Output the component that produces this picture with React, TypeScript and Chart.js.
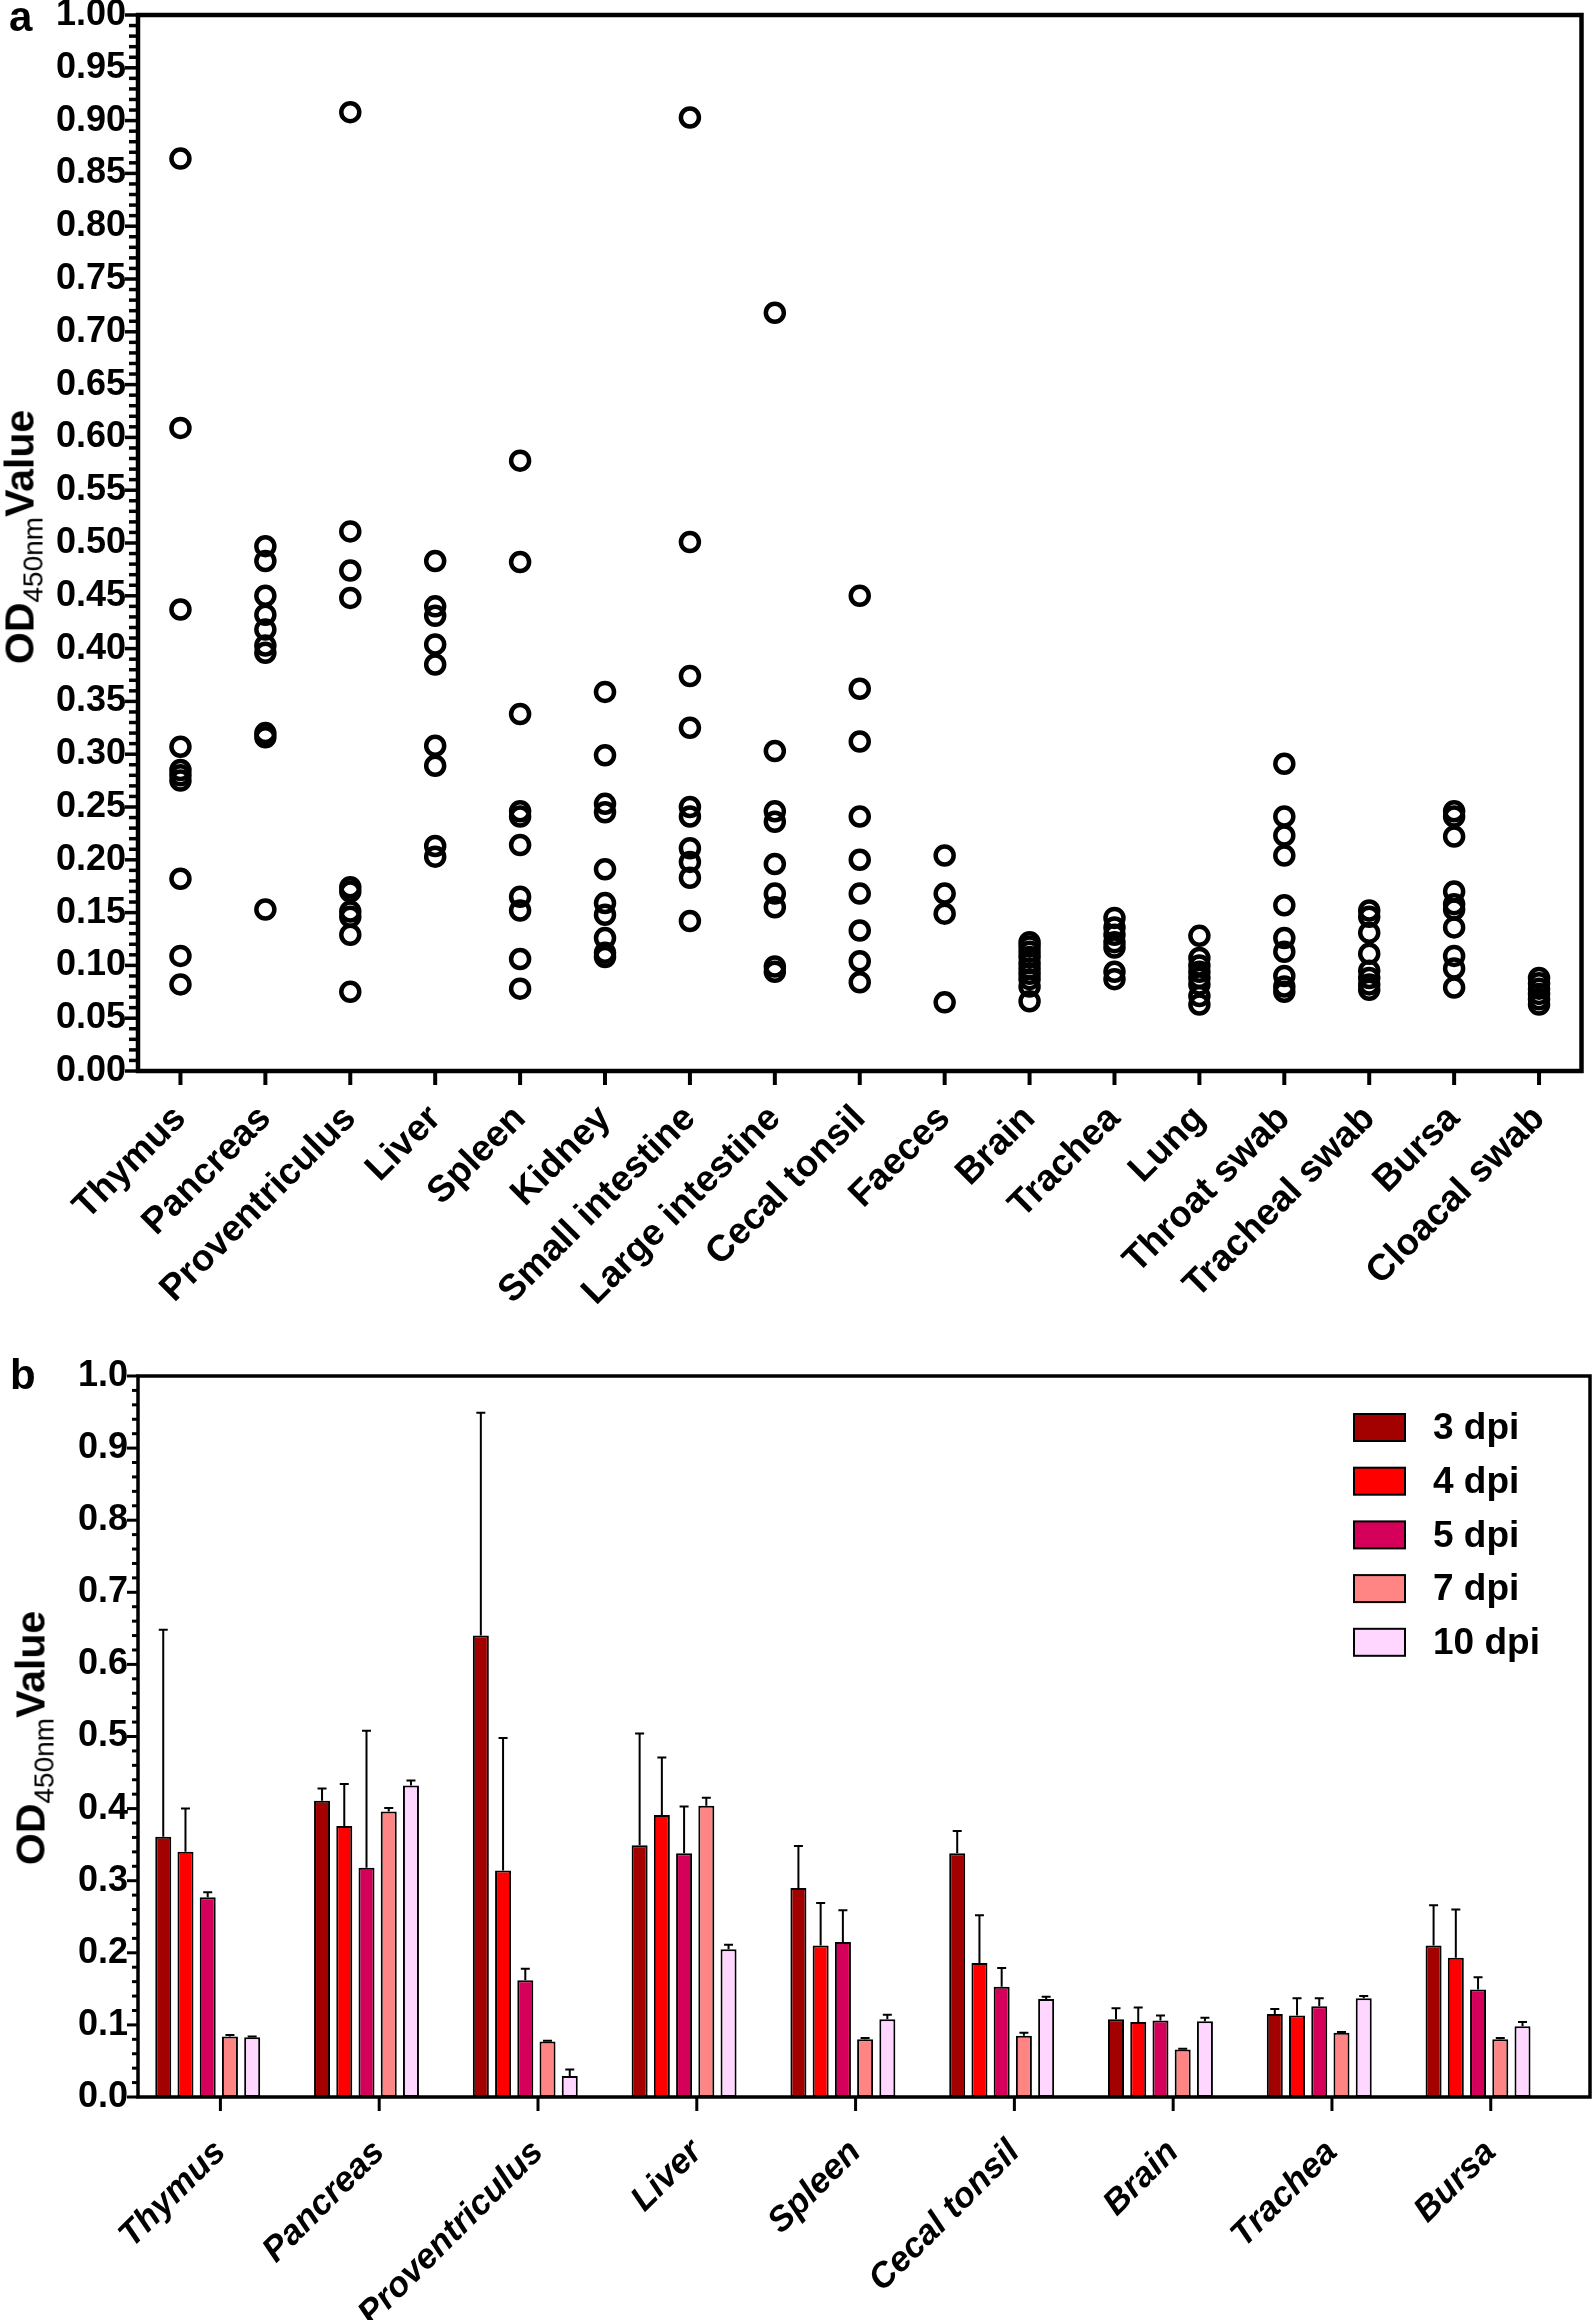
import React, { useEffect, useRef } from 'react';
import { Chart, registerables } from 'chart.js';

Chart.register(...registerables);

const FONT = '"Liberation Sans", Arial, Helvetica, sans-serif';

// ---------------- Panel a: individual OD values per tissue ----------------
const tissuesA = [
  'Thymus', 'Pancreas', 'Proventriculus', 'Liver', 'Spleen', 'Kidney',
  'Small intestine', 'Large intestine', 'Cecal tonsil', 'Faeces', 'Brain',
  'Trachea', 'Lung', 'Throat swab', 'Tracheal swab', 'Bursa', 'Cloacal swab',
];
const thymusA = [0.864, 0.609, 0.437, 0.307, 0.285, 0.28, 0.275, 0.182, 0.109, 0.082];
const pancreasA = [0.497, 0.483, 0.45, 0.432, 0.418, 0.403, 0.396, 0.32, 0.316, 0.153];
const proventriculusA = [0.908, 0.511, 0.474, 0.448, 0.174, 0.17, 0.151, 0.146, 0.129, 0.075];
const liverA = [0.483, 0.44, 0.431, 0.404, 0.385, 0.308, 0.289, 0.213, 0.203];
const spleenA = [0.578, 0.482, 0.338, 0.246, 0.241, 0.214, 0.165, 0.152, 0.106, 0.078];
const kidneyA = [0.359, 0.299, 0.253, 0.245, 0.191, 0.159, 0.148, 0.126, 0.112, 0.108];
const smallIntestineA = [0.903, 0.501, 0.374, 0.325, 0.25, 0.241, 0.211, 0.198, 0.183, 0.142];
const largeIntestineA = [0.718, 0.303, 0.246, 0.236, 0.196, 0.168, 0.155, 0.099, 0.094];
const cecalTonsilA = [0.45, 0.362, 0.312, 0.241, 0.2, 0.168, 0.133, 0.104, 0.084];
const faecesA = [0.204, 0.168, 0.149, 0.065];
const brainA = [0.122, 0.118, 0.113, 0.108, 0.102, 0.097, 0.092, 0.087, 0.08, 0.066];
const tracheaA = [0.145, 0.136, 0.129, 0.122, 0.117, 0.094, 0.087];
const lungA = [0.128, 0.107, 0.1, 0.094, 0.088, 0.082, 0.071, 0.063];
const throatSwabA = [0.291, 0.241, 0.223, 0.204, 0.157, 0.126, 0.113, 0.09, 0.08, 0.075];
const trachealSwabA = [0.152, 0.146, 0.131, 0.111, 0.095, 0.088, 0.082, 0.077];
const bursaA = [0.246, 0.241, 0.222, 0.17, 0.158, 0.153, 0.136, 0.109, 0.097, 0.079];
const cloacalSwabA = [0.088, 0.083, 0.078, 0.073, 0.068, 0.063];
const valuesA = [
  thymusA, pancreasA, proventriculusA, liverA, spleenA, kidneyA, smallIntestineA,
  largeIntestineA, cecalTonsilA, faecesA, brainA, tracheaA, lungA, throatSwabA,
  trachealSwabA, bursaA, cloacalSwabA,
];

// ---------------- Panel b: mean OD per day post infection ----------------
const tissuesB = ['Thymus', 'Pancreas', 'Proventriculus', 'Liver', 'Spleen', 'Cecal tonsil', 'Brain', 'Trachea', 'Bursa'];
const dpiLabels = ['3 dpi', '4 dpi', '5 dpi', '7 dpi', '10 dpi'];
const dpiColors = ['#A30000', '#FF0000', '#D4005A', '#FF8585', '#FFD6FF'];
const mean3 = [0.361, 0.411, 0.64, 0.349, 0.29, 0.338, 0.108, 0.115, 0.21];
const upper3 = [0.648, 0.428, 0.949, 0.504, 0.348, 0.369, 0.123, 0.122, 0.266];
const mean4 = [0.34, 0.376, 0.314, 0.391, 0.21, 0.186, 0.104, 0.113, 0.193];
const upper4 = [0.4, 0.434, 0.498, 0.471, 0.269, 0.252, 0.124, 0.137, 0.26];
const mean5 = [0.277, 0.318, 0.162, 0.338, 0.215, 0.153, 0.106, 0.126, 0.149];
const upper5 = [0.284, 0.508, 0.178, 0.403, 0.259, 0.179, 0.113, 0.137, 0.166];
const mean7 = [0.084, 0.396, 0.077, 0.404, 0.08, 0.085, 0.066, 0.089, 0.08];
const upper7 = [0.086, 0.401, 0.078, 0.415, 0.082, 0.089, 0.067, 0.09, 0.082];
const mean10 = [0.083, 0.432, 0.029, 0.205, 0.108, 0.136, 0.105, 0.137, 0.098];
const upper10 = [0.084, 0.439, 0.038, 0.211, 0.114, 0.139, 0.11, 0.14, 0.104];
const meansB = [mean3, mean4, mean5, mean7, mean10];
const uppersB = [upper3, upper4, upper5, upper7, upper10];

// ---------------- plugins ----------------
const axisFramePlugin = {
  id: 'axisFrame',
  afterDraw(chart: any, _args: any, opts: any) {
    const { ctx, chartArea, scales } = chart;
    const { left, right, top, bottom } = chartArea;
    const x = scales.x;
    const y = scales.y;
    ctx.save();
    ctx.strokeStyle = '#000';
    ctx.lineCap = 'butt';
    ctx.lineWidth = opts.tickWidth;
    const n = Math.round((y.max - y.min) / opts.minor);
    const ratio = Math.round(opts.major / opts.minor);
    for (let k = 0; k <= n; k++) {
      const py = y.getPixelForValue(y.min + k * opts.minor);
      const len = k % ratio === 0 ? opts.majorLen : opts.minorLen;
      ctx.beginPath();
      ctx.moveTo(left - len, py);
      ctx.lineTo(left, py);
      ctx.stroke();
    }
    ctx.lineWidth = opts.xTickWidth;
    x.ticks.forEach((t: any) => {
      const px = x.getPixelForValue(t.value);
      ctx.beginPath();
      ctx.moveTo(px, bottom);
      ctx.lineTo(px, bottom + opts.xTickLen);
      ctx.stroke();
    });
    ctx.lineWidth = opts.lineWidth;
    ctx.lineJoin = 'miter';
    ctx.strokeRect(left, top, right - left, bottom - top);
    ctx.restore();
  },
};

const errorBarPlugin = {
  id: 'errorBars',
  afterDatasetsDraw(chart: any) {
    const { ctx } = chart;
    const y = chart.scales.y;
    ctx.save();
    ctx.strokeStyle = '#000';
    ctx.lineWidth = 2;
    chart.data.datasets.forEach((ds: any, di: number) => {
      const meta = chart.getDatasetMeta(di);
      meta.data.forEach((bar: any, i: number) => {
        const yTop = y.getPixelForValue(ds.upper[i]);
        ctx.beginPath();
        ctx.moveTo(bar.x, bar.y);
        ctx.lineTo(bar.x, yTop);
        ctx.moveTo(bar.x - 4.5, yTop);
        ctx.lineTo(bar.x + 4.5, yTop);
        ctx.stroke();
      });
    });
    ctx.restore();
  },
};

const boxLegendPlugin = {
  id: 'boxLegend',
  afterDraw(chart: any) {
    const { ctx, chartArea } = chart;
    ctx.save();
    chart.data.datasets.forEach((ds: any, i: number) => {
      const bx = chartArea.right - 236;
      const by = chartArea.top + 38 + i * 53.7;
      ctx.fillStyle = ds.backgroundColor;
      ctx.fillRect(bx, by, 51, 27);
      ctx.strokeStyle = '#000';
      ctx.lineWidth = 2;
      ctx.strokeRect(bx, by, 51, 27);
      ctx.fillStyle = '#000';
      ctx.font = `bold 37px ${FONT}`;
      ctx.textBaseline = 'middle';
      ctx.textAlign = 'left';
      ctx.fillText(ds.label, chartArea.right - 157, by + 15);
    });
    ctx.restore();
  },
};

const zeroPad = (s: any) => {
  s.paddingTop = 0;
  s.paddingBottom = 0;
  s.paddingLeft = 0;
  s.paddingRight = 0;
};

function PanelA() {
  const ref = useRef<HTMLCanvasElement>(null);
  useEffect(() => {
    const datasets = valuesA.map((vals, i) => ({
      label: tissuesA[i],
      data: vals.map((v) => ({ x: i, y: v })),
      pointStyle: 'circle',
      pointRadius: 9,
      pointBorderWidth: 4.5,
      pointBorderColor: '#000',
      pointBackgroundColor: 'rgba(0,0,0,0)',
      showLine: false,
    }));
    const chart = new Chart(ref.current as HTMLCanvasElement, {
      type: 'scatter',
      data: { datasets },
      options: {
        animation: false,
        responsive: false,
        devicePixelRatio: 1,
        layout: { padding: { top: 15, right: 6, left: 0, bottom: 0 } },
        plugins: {
          legend: { display: false },
          tooltip: { enabled: false },
          axisFrame: { tickWidth: 3.5, xTickWidth: 4, minor: 0.01, major: 0.05, majorLen: 13, minorLen: 9, xTickLen: 14, lineWidth: 4.5 },
        } as any,
        scales: {
          x: {
            type: 'linear',
            min: -0.5,
            max: tissuesA.length - 0.5,
            offset: false,
            grid: { display: false, drawTicks: false },
            border: { display: false },
            afterBuildTicks: (s: any) => {
              s.ticks = tissuesA.map((_, i) => ({ value: i }));
            },
            afterFit: (s: any) => {
              s.height = 239;
              zeroPad(s);
            },
            ticks: {
              autoSkip: false,
              maxRotation: 45,
              minRotation: 45,
              padding: 26,
              color: '#000',
              font: { family: FONT, size: 37, weight: 'bold' },
              callback: (v: any) => tissuesA[Math.round(v)],
            },
          },
          y: {
            min: 0,
            max: 1,
            grid: { display: false, drawTicks: false },
            border: { display: false },
            afterFit: (s: any) => {
              s.width = 138;
              zeroPad(s);
            },
            ticks: {
              stepSize: 0.05,
              padding: 12,
              color: '#000',
              font: { family: FONT, size: 36, weight: 'bold' },
              callback: (v: any) => Number(v).toFixed(2),
            },
          },
        },
      } as any,
      plugins: [axisFramePlugin],
    });
    return () => chart.destroy();
  }, []);
  return <canvas ref={ref} width={1595} height={1310} style={{ position: 'absolute', left: 0, top: 0, width: 1595, height: 1310 }} />;
}

function PanelB() {
  const ref = useRef<HTMLCanvasElement>(null);
  useEffect(() => {
    const datasets = meansB.map((vals, di) => ({
      label: dpiLabels[di],
      data: vals.map((v, i) => ({ x: i, y: v })),
      upper: uppersB[di],
      backgroundColor: dpiColors[di],
      borderColor: '#000',
      borderWidth: 2,
      borderSkipped: false,
      categoryPercentage: 0.7,
      barPercentage: 0.72,
    }));
    const chart = new Chart(ref.current as HTMLCanvasElement, {
      type: 'bar',
      data: { datasets } as any,
      options: {
        animation: false,
        responsive: false,
        devicePixelRatio: 1,
        layout: { padding: { top: 66, right: 5, left: 0, bottom: 0 } },
        plugins: {
          legend: { display: false },
          tooltip: { enabled: false },
          axisFrame: { tickWidth: 3, xTickWidth: 3, minor: 0.02, major: 0.1, majorLen: 11, minorLen: 6, xTickLen: 14, lineWidth: 3.5 },
        } as any,
        scales: {
          x: {
            type: 'linear',
            min: -0.439,
            max: 8.705,
            offset: false,
            grid: { display: false, drawTicks: false },
            border: { display: false },
            afterBuildTicks: (s: any) => {
              s.ticks = tissuesB.map((_, i) => ({ value: i + 0.08 }));
            },
            afterFit: (s: any) => {
              s.height = 223;
              zeroPad(s);
            },
            ticks: {
              autoSkip: false,
              maxRotation: 45,
              minRotation: 45,
              padding: 35,
              color: '#000',
              font: { family: FONT, size: 35, weight: 'bold', style: 'italic' },
              callback: (v: any) => tissuesB[Math.round(v)],
            },
          },
          y: {
            min: 0,
            max: 1,
            grid: { display: false, drawTicks: false },
            border: { display: false },
            afterFit: (s: any) => {
              s.width = 138;
              zeroPad(s);
            },
            ticks: {
              stepSize: 0.1,
              padding: 10,
              color: '#000',
              font: { family: FONT, size: 36, weight: 'bold' },
              callback: (v: any) => Number(v).toFixed(1),
            },
          },
        },
      } as any,
      plugins: [axisFramePlugin, errorBarPlugin, boxLegendPlugin],
    });
    return () => chart.destroy();
  }, []);
  return <canvas ref={ref} width={1595} height={1010} style={{ position: 'absolute', left: 0, top: 1310, width: 1595, height: 1010 }} />;
}

function YTitle({ cx, cy }: { cx: number; cy: number }) {
  return (
    <div
      style={{
        position: 'absolute',
        left: cx,
        top: cy,
        transform: 'translate(-50%, -50%) rotate(-90deg)',
        fontFamily: FONT,
        fontWeight: 'bold',
        fontSize: 41,
        lineHeight: 1,
        whiteSpace: 'nowrap',
        color: '#000',
      }}
    >
      OD<span style={{ fontSize: 28, fontWeight: 'normal', position: 'relative', top: 9 }}>450nm</span>Value
    </div>
  );
}

const letterStyle: React.CSSProperties = {
  position: 'absolute',
  fontFamily: FONT,
  fontWeight: 'bold',
  fontSize: 42,
  lineHeight: 1,
  color: '#000',
};

export default function App() {
  return (
    <div style={{ position: 'absolute', left: 0, top: 0, width: 1595, height: 2320, background: '#fff', overflow: 'hidden' }}>
      <PanelA />
      <PanelB />
      <YTitle cx={20} cy={537} />
      <YTitle cx={31} cy={1738} />
      <div style={{ ...letterStyle, left: 9, top: -4 }}>a</div>
      <div style={{ ...letterStyle, left: 10, top: 1354 }}>b</div>
    </div>
  );
}
